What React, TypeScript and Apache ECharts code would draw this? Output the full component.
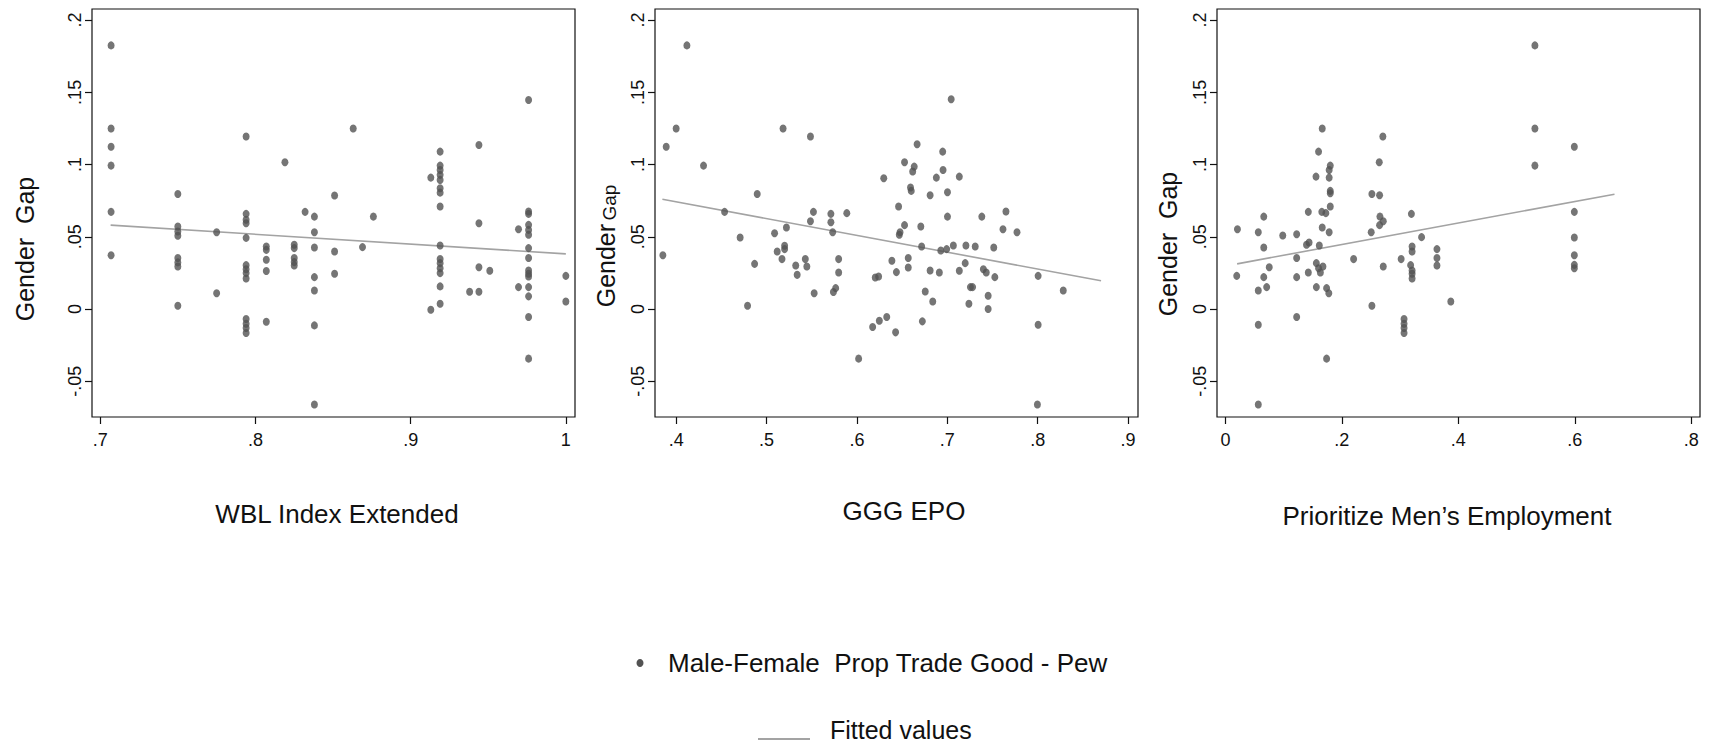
import React, { useEffect, useRef } from "react";
import * as echarts from "echarts";

// ---------- data ----------
const yTicks = [-0.05, 0, 0.05, 0.1, 0.15, 0.2];
const wblTicks = [0.7, 0.8, 0.9, 1];
const epoTicks = [0.4, 0.5, 0.6, 0.7, 0.8, 0.9];
const menTicks = [0, 0.2, 0.4, 0.6, 0.8];

const yTitle = "Gender  Gap";
const wblTitle = "WBL Index Extended";
const epoTitle = "GGG EPO";
const menTitle = "Prioritize Men\u2019s Employment";
const scatterName = "Male-Female  Prop Trade Good - Pew";
const fitName = "Fitted values";

// Panel 1: WBL Index Extended
const wblX = [
  0.707, 0.707, 0.707, 0.707, 0.707, 0.707,
  0.75, 0.75, 0.75, 0.75, 0.75, 0.75, 0.75, 0.75,
  0.775, 0.775,
  0.794, 0.794, 0.794, 0.794, 0.794, 0.794, 0.794, 0.794, 0.794, 0.794, 0.794, 0.794, 0.794,
  0.807, 0.807, 0.807, 0.807, 0.807,
  0.819,
  0.825, 0.825, 0.825, 0.825, 0.825,
  0.832,
  0.838, 0.838, 0.838, 0.838, 0.838, 0.838, 0.838,
  0.851, 0.851, 0.851,
  0.863, 0.869, 0.876,
  0.913, 0.913,
  0.919, 0.919, 0.919, 0.919, 0.919, 0.919, 0.919, 0.919, 0.919, 0.919, 0.919, 0.919, 0.919, 0.919, 0.919,
  0.938,
  0.944, 0.944, 0.944, 0.944,
  0.951,
  0.9695, 0.9695,
  0.976, 0.976, 0.976, 0.976, 0.976, 0.976, 0.976, 0.976, 0.976, 0.976, 0.976, 0.976, 0.976, 0.976, 0.976,
  1.0, 1.0,
];
const wblY = [
  0.1825, 0.125, 0.1124, 0.0993, 0.0673, 0.0373,
  0.0797, 0.0571, 0.0537, 0.0507, 0.0353, 0.0323, 0.0295, 0.0023,
  0.0532, 0.011,
  0.1194, 0.0659, 0.0618, 0.0594, 0.0493, 0.0304, 0.0276, 0.0249, 0.0212, -0.0069, -0.0101, -0.0131, -0.0166,
  0.0433, 0.041, 0.0341, 0.0263, -0.0088,
  0.1016,
  0.0445, 0.0422, 0.0353, 0.0325, 0.0302,
  0.0673,
  0.064, 0.0532, 0.0426, 0.0221, 0.0129, -0.0113, -0.0661,
  0.0786, 0.0399, 0.0244,
  0.125, 0.0429, 0.064,
  0.091, -0.0005,
  0.109, 0.0993, 0.0963, 0.0929, 0.0894, 0.0836, 0.0806, 0.071, 0.044, 0.0346, 0.0318, 0.0283, 0.0249, 0.0157, 0.0037,
  0.012,
  0.1136, 0.0594, 0.029, 0.012,
  0.0265,
  0.0553, 0.0152,
  0.1447, 0.0675, 0.0659, 0.0583, 0.0548, 0.0514, 0.0422, 0.0353, 0.0267, 0.0244, 0.0226, 0.0152, 0.0088, -0.0055, -0.0343,
  0.023, 0.0053,
];
const wblFitX = [0.7067, 1.0];
const wblFitY = [0.0581, 0.0382];

// Panel 2: GGG EPO
const epoX = [
  0.3853, 0.389, 0.4, 0.4119, 0.4303, 0.4536, 0.4708, 0.479, 0.4868, 0.4897,
  0.5089, 0.5118, 0.5171, 0.5183, 0.52, 0.52, 0.522, 0.5323, 0.5339, 0.5429,
  0.5446, 0.5486, 0.5486, 0.5519, 0.5527, 0.5712, 0.5712, 0.5732, 0.574, 0.5765,
  0.5798, 0.5798, 0.5888, 0.6019, 0.6174, 0.6203, 0.624, 0.6248, 0.6297, 0.633,
  0.6387, 0.6428, 0.6437, 0.6461, 0.6469, 0.6477, 0.6527, 0.6527, 0.6568, 0.6568,
  0.6593, 0.6601, 0.6617, 0.6634, 0.6666, 0.6707, 0.6716, 0.6724, 0.6756, 0.681,
  0.681, 0.6839, 0.6879, 0.6912, 0.6928, 0.6949, 0.6953, 0.6993, 0.7002, 0.7002,
  0.7043, 0.7067, 0.7133, 0.7133, 0.7198, 0.7206, 0.7239, 0.7256, 0.728, 0.7309,
  0.7382, 0.7399, 0.7431, 0.7452, 0.7452, 0.7514, 0.7526, 0.7616, 0.7649, 0.7771,
  0.8005, 0.8005, 0.7997, 0.8283,
];
const epoY = [
  0.0373, 0.1124, 0.125, 0.1825, 0.0993, 0.0673, 0.0495, 0.0023, 0.0313, 0.0797,
  0.0525, 0.0399, 0.0346, 0.125, 0.0438, 0.0415, 0.0565, 0.0302, 0.0237, 0.0346,
  0.0295, 0.1194, 0.0608, 0.0673, 0.011, 0.0659, 0.0601, 0.0532, 0.0118, 0.0145,
  0.0346, 0.0253, 0.0664, -0.0343, -0.0124, 0.0219, 0.0226, -0.0081, 0.0906, -0.0055,
  0.0334, -0.0161, 0.0256, 0.071, 0.0514, 0.0532, 0.0581, 0.1016, 0.0353, 0.0288,
  0.0841, 0.0818, 0.0952, 0.0986, 0.1141, 0.0571, 0.0433, -0.0085, 0.0122, 0.0788,
  0.0267, 0.0053, 0.091, 0.0253, 0.0406, 0.109, 0.0963, 0.0415, 0.0809, 0.064,
  0.1452, 0.044, 0.0265, 0.0917, 0.0318, 0.044, 0.0037, 0.0152, 0.0152, 0.0433,
  0.064, 0.0276, 0.0253, 0.0092, 0.0, 0.0426, 0.0221, 0.0553, 0.0675, 0.0532,
  0.023, -0.0108, -0.0661, 0.0129,
];
const epoFitX = [0.3848, 0.8701];
const epoFitY = [0.076, 0.0196];

// Panel 3: Prioritize Men's Employment
const menX = [
  0.0207, 0.0195, 0.0565, 0.0565, 0.0565, 0.0565, 0.0659, 0.0659, 0.0659, 0.0709,
  0.0753, 0.0985, 0.1224, 0.1224, 0.1224, 0.1224, 0.1393, 0.1424, 0.1437, 0.1424,
  0.1556, 0.1562, 0.1562, 0.16, 0.1613, 0.16, 0.1631, 0.1663, 0.1656, 0.1663,
  0.1675, 0.1725, 0.1738, 0.1738, 0.1776, 0.1782, 0.1801, 0.1782, 0.1782, 0.1801,
  0.1801, 0.1801, 0.2202, 0.2504, 0.2516, 0.2516, 0.2642, 0.2648, 0.2654, 0.2648,
  0.2704, 0.2711, 0.2711, 0.3018, 0.3068, 0.3068, 0.3068, 0.3068, 0.3181, 0.3194,
  0.3206, 0.3206, 0.3206, 0.3206, 0.3206, 0.3369, 0.3633, 0.3633, 0.3633, 0.3871,
  0.5315, 0.5315, 0.5315, 0.5992, 0.5992, 0.5992, 0.5992, 0.5992, 0.5992,
];
const menY = [
  0.0553, 0.023, 0.0532, 0.0129, -0.0108, -0.0661, 0.064, 0.0426, 0.0221, 0.0152,
  0.029, 0.0509, 0.0518, 0.0353, 0.0221, -0.0055, 0.0445, 0.0673, 0.0461, 0.0253,
  0.0917, 0.0152, 0.0318, 0.109, 0.044, 0.0283, 0.0253, 0.125, 0.0673, 0.0565,
  0.0295, 0.0664, -0.0343, 0.0145, 0.011, 0.0532, 0.0993, 0.0963, 0.091, 0.0818,
  0.0802, 0.071, 0.0346, 0.0532, 0.0023, 0.0797, 0.1016, 0.0788, 0.064, 0.0581,
  0.1194, 0.0295, 0.0608, 0.0346, -0.0069, -0.0101, -0.0131, -0.0166, 0.0304, 0.0659,
  0.0433, 0.0399, 0.0267, 0.0244, 0.0212, 0.0498, 0.0415, 0.0353, 0.0302, 0.0053,
  0.1825, 0.125, 0.0993, 0.1124, 0.0673, 0.0495, 0.0373, 0.0306, 0.0283,
];
const menFitX = [0.0201, 0.6682];
const menFitY = [0.0313, 0.0795];

// ---------- helpers ----------
const FONT = "'Liberation Sans', Arial, Helvetica, sans-serif";
const TEXT = "#111111";
const DOT = "#525252";
const FIT = "#a3a3a3";

const zip = (xs: number[], ys: number[]) => xs.map((x, i) => [x, ys[i]]);
const fmt = (v: number) => {
  if (Math.abs(v) < 1e-9) return "0";
  const s = String(Math.round(v * 1000) / 1000);
  return s.replace(/^0\./, ".").replace(/^-0\./, "-.");
};

const Y_MIN = -0.0747;
const Y_MAX = 0.2077;

const panels = [
  { xs: wblX, ys: wblY, fx: wblFitX, fy: wblFitY, ticks: wblTicks, min: 0.6947, max: 1.0059, left: 92 },
  { xs: epoX, ys: epoY, fx: epoFitX, fy: epoFitY, ticks: epoTicks, min: 0.3766, max: 0.911, left: 655 },
  { xs: menX, ys: menY, fx: menFitX, fy: menFitY, ticks: menTicks, min: -0.0144, max: 0.815, left: 1217 },
];

export default function App() {
  const ref = useRef<HTMLDivElement>(null);

  useEffect(() => {
    if (!ref.current) return;
    const chart = echarts.init(ref.current, null, { renderer: "svg" });

    const grid = panels.map((p) => ({
      left: p.left,
      top: 9,
      width: 483,
      height: 408,
      show: true,
      borderColor: "#111",
      borderWidth: 1.2,
      backgroundColor: "transparent",
      containLabel: false,
      outerBoundsMode: "none",
    }));

    const xAxis = panels.map((p, i) => ({
      type: "value",
      gridIndex: i,
      position: "bottom",
      min: p.min,
      max: p.max,
      axisLine: { show: false, onZero: false },
      splitLine: { show: false },
      axisTick: {
        show: true,
        length: 7,
        customValues: p.ticks,
        lineStyle: { color: "#111", width: 1.2 },
      },
      axisLabel: {
        customValues: p.ticks,
        formatter: (v: number) => fmt(v),
        fontSize: 18,
        fontFamily: FONT,
        color: TEXT,
        margin: 14,
      },
    }));

    const yAxis = panels.map((p, i) => ({
      type: "value",
      gridIndex: i,
      position: "left",
      min: Y_MIN,
      max: Y_MAX,
      axisLine: { show: false, onZero: false },
      splitLine: { show: false },
      axisTick: {
        show: true,
        length: 7,
        customValues: yTicks,
        lineStyle: { color: "#111", width: 1.2 },
      },
      axisLabel: {
        customValues: yTicks,
        formatter: (v: number) => fmt(v),
        rotate: 90,
        fontSize: 18,
        fontFamily: FONT,
        color: TEXT,
        margin: 8,
      },
    }));

    const series: any[] = [];
    panels.forEach((p, i) => {
      series.push({
        type: "scatter",
        name: scatterName,
        xAxisIndex: i,
        yAxisIndex: i,
        data: zip(p.xs, p.ys),
        symbol: "circle",
        symbolSize: [7, 8],
        itemStyle: { color: DOT },
        silent: true,
        z: 3,
      });
      series.push({
        type: "line",
        name: fitName,
        xAxisIndex: i,
        yAxisIndex: i,
        data: zip(p.fx, p.fy),
        showSymbol: false,
        symbol: "none",
        lineStyle: { color: FIT, width: 1.6 },
        silent: true,
        z: 2,
      });
    });

    const titleStyle = (text: string, size = 26) => ({
      text,
      fontSize: size,
      fontFamily: FONT,
      fill: TEXT,
      align: "center",
      verticalAlign: "middle",
    });

    const graphic: any[] = [
      { type: "text", x: 25, y: 249, rotation: Math.PI / 2, style: titleStyle(yTitle, 25) },
      {
        type: "text",
        x: 606,
        y: 246,
        rotation: Math.PI / 2,
        style: {
          text: "{a|Gender} {b|Gap}",
          fontFamily: FONT,
          fill: TEXT,
          align: "center",
          verticalAlign: "middle",
          rich: {
            a: { fontSize: 25, fontFamily: FONT, fill: TEXT, verticalAlign: "bottom" },
            b: { fontSize: 19, fontFamily: FONT, fill: TEXT, verticalAlign: "bottom" },
          },
        },
      },
      { type: "text", x: 1168, y: 244, rotation: Math.PI / 2, style: titleStyle(yTitle, 25) },
      { type: "text", x: 337, y: 514, style: titleStyle(wblTitle) },
      { type: "text", x: 904, y: 511, style: titleStyle(epoTitle) },
      { type: "text", x: 1447, y: 516, style: titleStyle(menTitle) },
      // legend
      { type: "ellipse", shape: { cx: 640, cy: 663, rx: 3.5, ry: 4 }, style: { fill: DOT } },
      {
        type: "text",
        x: 668,
        y: 663,
        style: { text: scatterName, fontSize: 26, fontFamily: FONT, fill: TEXT, align: "left", verticalAlign: "middle" },
      },
      { type: "line", shape: { x1: 758, y1: 739, x2: 810, y2: 739 }, style: { stroke: FIT, lineWidth: 2 } },
      {
        type: "text",
        x: 830,
        y: 730,
        style: { text: fitName, fontSize: 25, fontFamily: FONT, fill: TEXT, align: "left", verticalAlign: "middle" },
      },
    ];

    chart.setOption({
      animation: false,
      backgroundColor: "#ffffff",
      grid,
      xAxis,
      yAxis,
      series,
      graphic,
    } as any);

    return () => chart.dispose();
  }, []);

  return (
    <div
      ref={ref}
      style={{ position: "fixed", left: 0, top: 0, width: 1713, height: 746, background: "#fff" }}
    />
  );
}
